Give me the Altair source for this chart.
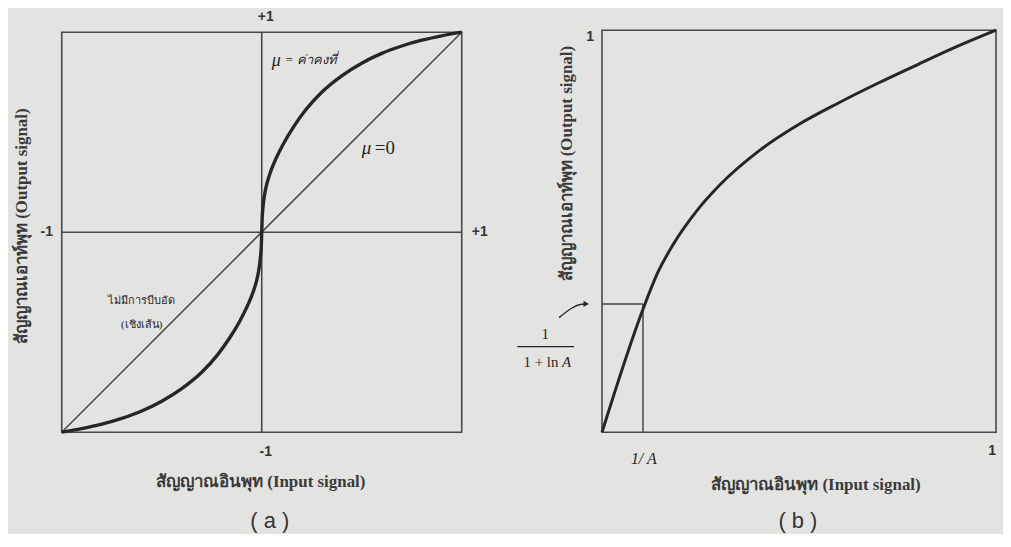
import altair as alt
import pandas as pd

# ---------------- data ----------------
# (a) mu-law compression curve (input x, output y)
mu_x = [-1, -0.9, -0.8, -0.7, -0.6, -0.5, -0.4, -0.3, -0.22, -0.16, -0.11, -0.07, -0.04, -0.02,
        -0.008, -0.002, 0, 0.002, 0.008, 0.02, 0.04, 0.07, 0.11, 0.16, 0.22, 0.3, 0.4, 0.5,
        0.6, 0.7, 0.8, 0.9, 1]
mu_y = [-1, -0.982, -0.96, -0.931, -0.894, -0.845, -0.782, -0.70, -0.612, -0.528, -0.445,
        -0.365, -0.29, -0.218, -0.14, -0.065, 0, 0.065, 0.14, 0.218, 0.29, 0.365, 0.445,
        0.528, 0.612, 0.70, 0.782, 0.845, 0.894, 0.931, 0.96, 0.982, 1]
# (a) linear (mu = 0) line
lin_x = [-1, 1]
lin_y = [-1, 1]

# (b) A-law curve
a_x = [0, 0.104, 0.14, 0.18, 0.24, 0.3, 0.4, 0.5, 0.6, 0.7, 0.8, 0.9, 1]
a_y = [0, 0.306, 0.394, 0.466, 0.55, 0.616, 0.701, 0.766, 0.819, 0.868, 0.914, 0.959, 1]
inv_A = 0.104          # 1/A on the input axis
knee_y = 0.319         # 1/(1+ln A) on the output axis

# annotation arrow path in panel (b)
arrow_x = [-0.109, -0.076, -0.058, -0.04]
arrow_y = [0.285, 0.309, 0.317, 0.319]

BG = "#e3e3e2"
INK = "#262626"
LINE = "#474747"
SERIF = "Liberation Serif"
SANS = "Liberation Sans"
TITLE = dict(font=SERIF, fontSize=17, fontWeight="bold", color="#3a3a3a")
LAB = dict(font=SANS, fontSize=14, fontWeight="bold", color="#333333")

# ---------------- panel (a) ----------------
sxa = alt.Scale(domain=[-1.2687, 1.2040], nice=False, zero=False)
sya = alt.Scale(domain=[-1.4925, 1.1144], nice=False, zero=False)


def XA(v):
    return alt.XDatum(v, type="quantitative", scale=sxa, axis=None)


def YA(v):
    return alt.YDatum(v, type="quantitative", scale=sya, axis=None)


def txt_a(text, x, y, **kw):
    return alt.Chart().mark_text(text=text, **kw).encode(x=XA(x), y=YA(y))


mu_df = pd.DataFrame({"x": mu_x, "y": mu_y})
lin_df = pd.DataFrame({"x": lin_x, "y": lin_y})

frame_a = alt.Chart().mark_rect(fill=None, stroke=LINE, strokeWidth=1.6).encode(
    x=XA(-1), x2=alt.X2Datum(1), y=YA(-1), y2=alt.Y2Datum(1))
vaxis_a = alt.Chart().mark_rule(color=LINE, strokeWidth=1.6).encode(
    x=XA(0), y=YA(-1), y2=alt.Y2Datum(1))
haxis_a = alt.Chart().mark_rule(color=LINE, strokeWidth=1.6).encode(
    y=YA(0), x=XA(-1), x2=alt.X2Datum(1))
lin_a = alt.Chart(lin_df).mark_line(color=LINE, strokeWidth=1.5).encode(
    x=alt.X("x:Q", scale=sxa, axis=None), y=alt.Y("y:Q", scale=sya, axis=None))
curve_a = alt.Chart(mu_df).mark_line(color=INK, strokeWidth=3.4, interpolate="monotone").encode(
    x=alt.X("x:Q", scale=sxa, axis=None), y=alt.Y("y:Q", scale=sya, axis=None), order="x:Q")

texts_a = [
    txt_a("+1", 0.02, 1.075, **LAB),
    txt_a("-1", -1.075, 0.0, **LAB),
    txt_a("+1", 1.09, 0.0, **LAB),
    txt_a("-1", 0.02, -1.1, **LAB),
    txt_a("μ", 0.05, 0.856, font=SERIF, fontSize=18, fontStyle="italic", align="left", color=INK),
    txt_a("= ค่าคงที่", 0.115, 0.86, font=SERIF, fontSize=13, fontStyle="italic", align="left",
          color=INK),
    txt_a("μ", 0.5, 0.423, font=SERIF, fontSize=19, fontStyle="italic", align="left", color=INK),
    txt_a("=0", 0.565, 0.423, font=SERIF, fontSize=19, align="left", color=INK),
    txt_a("ไม่มีการบีบอัด", -0.6, -0.343, font=SERIF, fontSize=11, color=INK),
    txt_a("(เชิงเส้น)", -0.6, -0.463, font=SERIF, fontSize=11, color=INK),
    txt_a("สัญญาณเอาท์พุท (Output signal)", -1.2, 0.03, angle=270, **TITLE),
    txt_a("สัญญาณอินพุท (Input signal)", -0.005, -1.249, **TITLE),
    txt_a("( a )", 0.04, -1.443, font=SANS, fontSize=22, color="#333333"),
]

panel_a = alt.layer(frame_a, vaxis_a, haxis_a, lin_a, curve_a, *texts_a).properties(
    width=497, height=524)

# ---------------- panel (b) ----------------
sxb = alt.Scale(domain=[-0.2525, 1.00505], nice=False, zero=False)
syb = alt.Scale(domain=[-0.245, 1.052], nice=False, zero=False)


def XB(v):
    return alt.XDatum(v, type="quantitative", scale=sxb, axis=None)


def YB(v):
    return alt.YDatum(v, type="quantitative", scale=syb, axis=None)


def txt_b(text, x, y, **kw):
    return alt.Chart().mark_text(text=text, **kw).encode(x=XB(x), y=YB(y))


a_df = pd.DataFrame({"x": a_x, "y": a_y})
arrow_df = pd.DataFrame({"x": arrow_x, "y": arrow_y, "o": list(range(len(arrow_x)))})

frame_b = alt.Chart().mark_rect(fill=None, stroke=LINE, strokeWidth=1.6).encode(
    x=XB(0), x2=alt.X2Datum(1), y=YB(0), y2=alt.Y2Datum(1))
knee_v = alt.Chart().mark_rule(color=LINE, strokeWidth=1.5).encode(
    x=XB(inv_A), y=YB(0), y2=alt.Y2Datum(knee_y))
knee_h = alt.Chart().mark_rule(color=LINE, strokeWidth=1.5).encode(
    y=YB(knee_y), x=XB(0), x2=alt.X2Datum(inv_A))
curve_b = alt.Chart(a_df).mark_line(color=INK, strokeWidth=3, interpolate="monotone").encode(
    x=alt.X("x:Q", scale=sxb, axis=None), y=alt.Y("y:Q", scale=syb, axis=None), order="x:Q")
arrow_line = alt.Chart(arrow_df).mark_line(color=INK, strokeWidth=1.4, interpolate="monotone").encode(
    x=alt.X("x:Q", scale=sxb, axis=None), y=alt.Y("y:Q", scale=syb, axis=None), order="o:Q")
arrow_head = alt.Chart().mark_point(shape="triangle-right", filled=True, size=40, color=INK,
                                    opacity=1).encode(x=XB(arrow_x[-1]), y=YB(arrow_y[-1]))
frac_line = alt.Chart().mark_rule(color=INK, strokeWidth=1.2).encode(
    y=YB(0.213), x=XB(-0.215), x2=alt.X2Datum(-0.071))

texts_b = [
    txt_b("1", -0.03, 0.983, **LAB),
    txt_b("1", 0.99, -0.047, **LAB),
    txt_b("1/ A", 0.106, -0.067, font=SERIF, fontSize=16, fontStyle="italic", color=INK),
    txt_b("1", -0.144, 0.243, font=SERIF, fontSize=15, color=INK),
    txt_b("1 + ln", -0.155, 0.175, font=SERIF, fontSize=15, color=INK),
    txt_b("A", -0.09, 0.175, font=SERIF, fontSize=15, fontStyle="italic", color=INK),
    txt_b("สัญญาณเอาท์พุท (Output signal)", -0.088, 0.668, angle=270, **TITLE),
    txt_b("สัญญาณอินพุท (Input signal)", 0.543, -0.131, **TITLE),
    txt_b("( b )", 0.497, -0.22, font=SANS, fontSize=22, color="#333333"),
]

panel_b = alt.layer(frame_b, knee_v, knee_h, curve_b, arrow_line, arrow_head, frac_line,
                    *texts_b).properties(width=498, height=524)

chart = alt.hconcat(panel_a, panel_b, spacing=0, bounds="flush").properties(
    padding=0, background=BG
).configure_view(stroke=None)

chart.save("out.html", embed_options={"renderer": "svg", "actions": False})
